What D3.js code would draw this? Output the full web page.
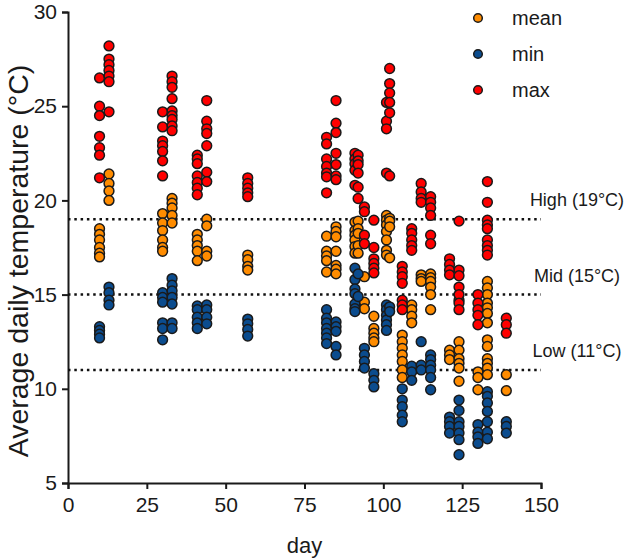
<!DOCTYPE html>
<html>
<head>
<meta charset="utf-8">
<script src="https://cdn.jsdelivr.net/npm/d3@7"></script>
<style>
  html, body { margin: 0; padding: 0; background: #fff; }
  text { font-family: Arial, "Liberation Sans", sans-serif; fill: #1a1a1a; }
</style>
</head>
<body>
<svg id="chart" width="634" height="559"></svg>
<script>
// ---------- data ----------
const seriesNames = ["mean", "min", "max"];
const seriesColors = ["#FF8C00", "#0B4C8E", "#FF0000"];

const xTicks = [0, 25, 50, 75, 100, 125, 150];
const yTicks = [5, 10, 15, 20, 25, 30];

const refValues = [19, 15, 11];
const refLabels = ["High (19°C)", "Mid (15°C)", "Low (11°C)"];

// [day, temperature]
const meanData = [
  [10,18.5],[10,18.2],[10,17.9],[10,17.5],[10,17.2],[10,17.0],
  [13,21.4],[13,20.9],[13,20.5],[13,20.0],
  [30,19.3],[30,18.8],[30,18.4],[30,17.9],[30,17.5],[30,17.3],
  [33,20.1],[33,19.85],[33,19.6],[33,19.2],[33,18.8],
  [41,18.2],[41,17.9],[41,17.6],[41,17.3],[41,16.8],
  [44,19.0],[44,18.65],[44,17.3],[44,17.05],
  [57,17.1],[57,16.85],[57,16.5],[57,16.3],
  [82,18.1],[82,17.3],[82,17.05],[82,16.8],[82,16.2],
  [85,18.6],[85,18.35],[85,18.07],[85,17.3],[85,16.55],[85,16.35],[85,16.1],
  [91,18.85],[91,18.4],[91,18.15],[91,17.9],[91,17.55],[91,17.2],
  [92,18.9],[92,18.5],[92,18.25],[92,17.6],[92,17.2],
  [94,15.95],[94,14.6],[94,14.25],
  [97,13.85],[97,13.2],[97,12.95],[97,12.7],[97,12.5],
  [101,19.2],[101,18.95],[101,18.7],[101,18.35],[101,17.9],[101,17.35],[101,17.1],
  [102,19.05],[102,18.9],[102,18.6],[102,16.95],
  [106,12.85],[106,12.5],[106,12.15],[106,11.8],[106,11.45],[106,11.0],[106,10.6],
  [109,14.45],[109,14.2],[109,13.85],[109,13.5],
  [112,16.05],[112,15.85],[112,15.7],
  [115,16.1],[115,15.9],[115,15.7],[115,15.4],[115,15.0],[115,14.2],
  [121,12.05],[121,11.8],[121,11.55],
  [124,14.7],[124,12.5],[124,12.05],[124,11.6],[124,11.35],[124,11.1],[124,10.4],
  [130,10.9],[130,10.6],[130,9.95],
  [133,15.7],[133,15.35],[133,15.0],[133,14.55],[133,14.3],[133,14.0],[133,13.5],
  [133,12.6],[133,12.25],[133,11.6],[133,11.35],[133,11.1],[133,10.75],
  [139,10.75],[139,9.9]
];

const minData = [
  [10,13.3],[10,13.1],[10,12.9],[10,12.7],
  [13,15.4],[13,15.1],[13,14.7],[13,14.45],
  [30,15.1],[30,14.85],[30,14.6],[30,13.5],[30,13.2],[30,12.6],
  [33,15.85],[33,15.5],[33,15.2],[33,14.85],[33,14.5],[33,13.5],[33,13.2],
  [41,14.4],[41,14.2],[41,13.8],[41,13.5],[41,13.2],
  [44,14.45],[44,14.2],[44,13.8],[44,13.45],
  [57,13.7],[57,13.45],[57,13.15],[57,12.8],
  [82,14.2],[82,13.75],[82,13.5],[82,13.2],[82,12.95],[82,12.7],[82,12.4],
  [85,13.55],[85,13.3],[85,13.05],[85,12.25],[85,11.8],
  [91,16.4],[91,15.8],[91,15.3],[91,15.05],[91,14.5],[91,14.25],[91,14.1],
  [92,16.1],[92,14.9],
  [94,12.15],[94,11.8],[94,11.45],[94,11.1],
  [97,10.8],[97,10.45],[97,10.1],
  [101,14.45],[101,14.2],[101,13.9],[101,13.65],[101,13.4],[101,13.1],
  [102,14.35],[102,14.1],
  [106,10.0],[106,9.4],[106,9.05],[106,8.6],[106,8.25],
  [109,11.2],[109,10.9],[109,10.45],
  [112,12.5],[112,11.25],[112,11.0],
  [115,11.8],[115,11.55],[115,11.25],[115,11.0],[115,10.6],[115,9.95],
  [121,8.5],[121,8.25],[121,8.0],[121,7.65],
  [124,9.4],[124,8.85],[124,8.25],[124,8.0],[124,7.65],[124,7.3],[124,6.5],
  [130,8.1],[130,7.7],[130,7.45],[130,7.1],
  [133,9.85],[133,9.6],[133,9.25],[133,8.8],[133,8.25],[133,7.7],[133,7.35],
  [139,8.25],[139,8.0],[139,7.65]
];

const maxData = [
  [10,26.5],[10,25.0],[10,24.5],[10,23.4],[10,22.8],[10,22.4],[10,21.2],
  [13,28.2],[13,27.5],[13,27.2],[13,26.9],[13,26.6],[13,26.3],[13,24.7],
  [30,24.7],[30,23.9],[30,23.15],[30,22.9],[30,22.6],[30,22.1],[30,21.3],
  [33,26.6],[33,26.3],[33,26.0],[33,25.4],[33,24.75],[33,24.5],[33,24.3],[33,23.95],[33,23.7],
  [41,22.4],[41,22.2],[41,21.95],[41,21.3],[41,20.95],[41,20.65],[41,20.3],
  [44,25.3],[44,24.2],[44,23.8],[44,23.55],[44,22.9],[44,21.5],[44,21.0],
  [57,21.2],[57,20.9],[57,20.65],[57,20.4],[57,20.2],
  [82,23.35],[82,23.0],[82,22.2],[82,21.8],[82,21.45],[82,21.25],[82,20.4],
  [85,25.3],[85,24.1],[85,23.6],[85,22.5],[85,21.9],[85,21.3],[85,21.1],
  [91,22.5],[91,22.2],[91,21.95],[91,21.6],[91,20.8],
  [92,22.4],[92,22.1],[92,21.9],[92,21.45],[92,20.7],[92,20.1],
  [94,19.65],[94,19.4],[94,18.15],[94,17.7],
  [97,18.95],[97,17.5],[97,16.9],[97,16.65],[97,16.4],[97,16.15],
  [101,25.2],[101,24.2],[101,23.8],[101,21.45],
  [102,27.0],[102,26.2],[102,25.7],[102,25.2],[102,24.65],[102,21.3],
  [106,16.5],[106,16.2],[106,15.95],[106,15.6],[106,14.7],[106,14.45],[106,14.2],
  [109,18.5],[109,18.25],[109,17.9],[109,17.6],[109,17.35],
  [112,20.9],[112,20.45],[112,20.1],[112,19.9],
  [115,20.2],[115,19.9],[115,19.6],[115,19.2],[115,18.15],[115,17.7],
  [121,16.9],[121,16.6],[121,16.3],[121,16.05],
  [124,18.9],[124,16.3],[124,16.0],[124,15.4],[124,15.0],[124,14.55],[124,14.2],
  [130,15.0],[130,14.55],[130,14.2],[130,13.9],[130,13.4],
  [133,21.0],[133,19.9],[133,18.95],[133,18.7],[133,18.5],[133,17.9],[133,17.6],[133,17.35],[133,17.1],
  [139,13.75],[139,13.4],[139,12.95]
];

const allSeries = [meanData, minData, maxData];

// ---------- layout ----------
const svg = d3.select("#chart");
const mLeft = 68, mRight = 541, mTop = 12, mBottom = 483;

const x = d3.scaleLinear().domain([0, 150]).range([mLeft, mRight]);
const y = d3.scaleLinear().domain([5, 30]).range([mBottom, mTop]);

// axes
const xAxis = svg.append("g")
  .attr("transform", `translate(0,${mBottom})`)
  .call(d3.axisBottom(x).tickValues(xTicks).tickSize(6).tickPadding(8));
const yAxis = svg.append("g")
  .attr("transform", `translate(${mLeft},0)`)
  .call(d3.axisLeft(y).tickValues(yTicks).tickSize(6).tickPadding(5));

[xAxis, yAxis].forEach(g => {
  g.select(".domain").attr("stroke", "#1a1a1a").attr("stroke-width", 2);
  g.selectAll(".tick line").attr("stroke", "#1a1a1a").attr("stroke-width", 2);
  g.selectAll(".tick text")
    .style("font-family", "Arial, 'Liberation Sans', sans-serif")
    .style("font-size", "21px").attr("fill", "#1a1a1a");
});

// axis titles
svg.append("text")
  .attr("x", (mLeft + mRight) / 2).attr("y", 553)
  .attr("text-anchor", "middle").style("font-size", "22px")
  .text("day");
svg.append("text")
  .attr("transform", `translate(28,261) rotate(-90)`)
  .attr("text-anchor", "middle").style("font-size", "28.5px")
  .text("Average daily temperature (°C)");

// reference lines
svg.append("g").selectAll("line").data(refValues).join("line")
  .attr("x1", mLeft).attr("x2", mRight)
  .attr("y1", d => y(d)).attr("y2", d => y(d))
  .attr("stroke", "#111").attr("stroke-width", 2.5)
  .attr("stroke-dasharray", "2.5,3.8");
svg.append("g").selectAll("text").data(refValues).join("text")
  .attr("x", 577).attr("y", d => y(d) - 13)
  .attr("text-anchor", "middle").style("font-size", "18px")
  .text((d, i) => refLabels[i]);

// points
allSeries.forEach((data, i) => {
  svg.append("g").selectAll("circle").data(data).join("circle")
    .attr("cx", d => x(d[0])).attr("cy", d => y(d[1]))
    .attr("r", 4.9)
    .attr("fill", seriesColors[i])
    .attr("stroke", "#1a1a1a").attr("stroke-width", 1.5);
});

// legend
const legend = svg.append("g");
seriesNames.forEach((name, i) => {
  const ly = 18 + i * 36;
  legend.append("circle").attr("cx", 478).attr("cy", ly).attr("r", 4.3)
    .attr("fill", seriesColors[i]).attr("stroke", "#1a1a1a").attr("stroke-width", 1.5);
  legend.append("text").attr("x", 512).attr("y", ly + 7)
    .style("font-size", "20px").text(name);
});
</script>
</body>
</html>
